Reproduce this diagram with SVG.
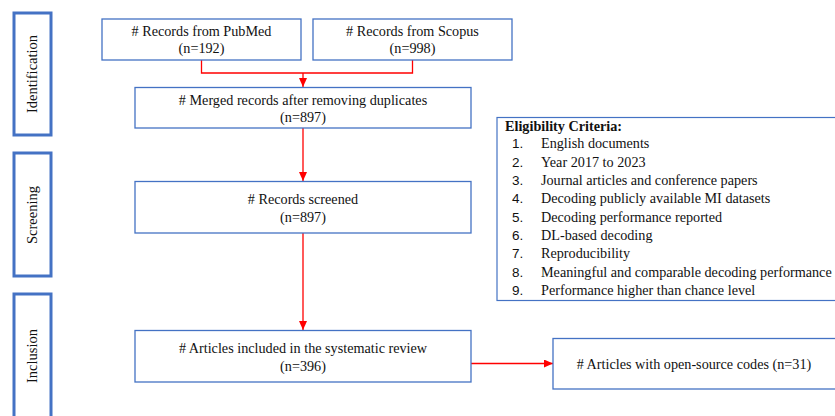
<svg xmlns="http://www.w3.org/2000/svg" width="835" height="416" viewBox="0 0 835 416">
<defs>
<style>
.stage{fill:#fff;stroke:#4472C4;stroke-width:3}
.node{fill:#fff;stroke:#4472C4;stroke-width:1.3}
.t{font-family:"Liberation Serif","Times New Roman",serif;font-size:14.2px;fill:#111;text-anchor:middle}
.st{font-family:"Liberation Serif","Times New Roman",serif;font-size:14.5px;fill:#111;text-anchor:middle}
.ct{font-family:"Liberation Serif","Times New Roman",serif;font-size:14.2px;fill:#111}
.num{font-family:"Liberation Sans",Arial,sans-serif;font-size:13.5px;fill:#111}
.conn{fill:none;stroke:#FF0000;stroke-width:1.3}
</style>
<marker id="arr" markerWidth="10" markerHeight="8" refX="9" refY="4" orient="auto" markerUnits="userSpaceOnUse">
<path d="M0,0 L9,4 L0,8 Z" fill="#FF0000"/>
</marker>
</defs>
<rect width="835" height="416" fill="#fff"/>

<g id="stage-identification">
<rect class="stage" x="14" y="13" width="37" height="122"/>
<text class="st" transform="translate(37,74) rotate(-90)">Identification</text>
</g>
<g id="stage-screening">
<rect class="stage" x="14" y="153" width="37" height="123"/>
<text class="st" transform="translate(37,215) rotate(-90)">Screening</text>
</g>
<g id="stage-inclusion">
<rect class="stage" x="14" y="294" width="37" height="130"/>
<text class="st" transform="translate(37,356) rotate(-90)">Inclusion</text>
</g>

<g id="connectors">
<path class="conn" d="M201.5,60 V73 H412.5 V60"/>
<path class="conn" d="M303,73 V87" marker-end="url(#arr)"/>
<path class="conn" d="M303,128 V181" marker-end="url(#arr)"/>
<path class="conn" d="M303,233 V330" marker-end="url(#arr)"/>
<path class="conn" d="M471,363.5 H553" marker-end="url(#arr)"/>
</g>

<g id="pubmed">
<rect class="node" x="102" y="19" width="199" height="41"/>
<text class="t" x="201.5" y="36"># Records from PubMed</text>
<text class="t" x="201.5" y="52.5">(n=192)</text>
</g>
<g id="scopus">
<rect class="node" x="313" y="19" width="199" height="41"/>
<text class="t" x="412.5" y="36"># Records from Scopus</text>
<text class="t" x="412.5" y="52.5">(n=998)</text>
</g>
<g id="merged">
<rect class="node" x="135" y="87.5" width="336" height="40.5"/>
<text class="t" x="303" y="105"># Merged records after removing duplicates</text>
<text class="t" x="303" y="121.5">(n=897)</text>
</g>
<g id="screened">
<rect class="node" x="135" y="181.5" width="336" height="51.5"/>
<text class="t" x="303" y="204"># Records screened</text>
<text class="t" x="303" y="221.5">(n=897)</text>
</g>
<g id="included">
<rect class="node" x="135" y="330.5" width="336" height="51.5"/>
<text class="t" x="303" y="353"># Articles included in the systematic review</text>
<text class="t" x="303" y="370.5">(n=396)</text>
</g>
<g id="opensource">
<rect class="node" x="553" y="338.5" width="290" height="50.5"/>
<text class="t" x="694" y="368.5"># Articles with open-source codes (n=31)</text>
</g>

<g id="criteria">
<rect x="497" y="117.5" width="350" height="183" fill="none" stroke="#4472C4" stroke-width="1.2"/>
<text class="ct" x="505" y="131" font-weight="bold">Eligibility Criteria:</text>
<g class="num">
<text x="512" y="148">1.</text>
<text x="512" y="166.5">2.</text>
<text x="512" y="185">3.</text>
<text x="512" y="203">4.</text>
<text x="512" y="221.5">5.</text>
<text x="512" y="240">6.</text>
<text x="512" y="258">7.</text>
<text x="512" y="276.5">8.</text>
<text x="512" y="295">9.</text>
</g>
<text class="ct" x="541" y="148">English documents</text>
<text class="ct" x="541" y="166.5">Year 2017 to 2023</text>
<text class="ct" x="541" y="185">Journal articles and conference papers</text>
<text class="ct" x="541" y="203">Decoding publicly available MI datasets</text>
<text class="ct" x="541" y="221.5">Decoding performance reported</text>
<text class="ct" x="541" y="240">DL-based decoding</text>
<text class="ct" x="541" y="258">Reproducibility</text>
<text class="ct" x="541" y="276.5">Meaningful and comparable decoding performance</text>
<text class="ct" x="541" y="295">Performance higher than chance level</text>
</g>
</svg>
